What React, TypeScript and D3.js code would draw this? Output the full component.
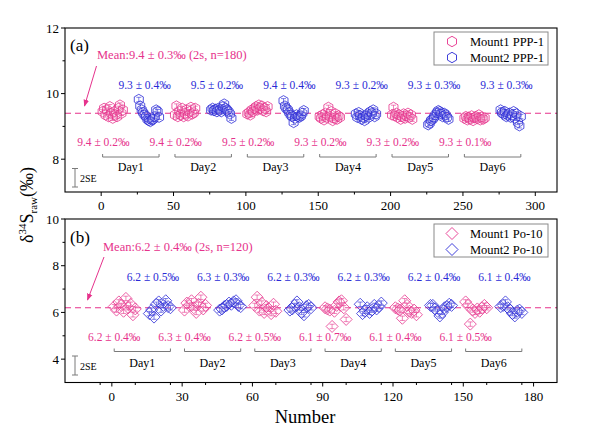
import React from "react";
import * as d3 from "d3";

const PINK = "#E6328C";
const BLUE = "#2A2AD6";
const GRAY = "#7a7a7a";
const FONT = "Liberation Serif, Tinos, Times New Roman, DejaVu Serif, serif";

// ---------- Panel (a) data: PPP-1 ----------
const daysA = ["Day1", "Day2", "Day3", "Day4", "Day5", "Day6"];
const mount1A: number[][] = [
  [9.45, 9.55, 9.35, 9.5, 9.3, 9.6, 9.4, 9.25, 9.45, 9.35, 9.3, 9.55, 9.65, 9.4, 9.5],
  [9.35, 9.62, 9.3, 9.45, 9.35, 9.55, 9.3, 9.4, 9.5, 9.32, 9.45, 9.58, 9.38, 9.42, 9.55],
  [9.38, 9.42, 9.35, 9.5, 9.45, 9.55, 9.6, 9.5, 9.65, 9.55, 9.62, 9.48, 9.55, 9.45, 9.6],
  [9.3, 9.25, 9.35, 9.2, 9.4, 9.28, 9.58, 9.3, 9.45, 9.18, 9.25, 9.38, 9.22, 9.32, 9.28],
  [9.35, 9.58, 9.32, 9.4, 9.28, 9.35, 9.22, 9.3, 9.38, 9.25, 9.32, 9.4, 9.28, 9.35, 9.22],
  [9.25, 9.3, 9.2, 9.28, 9.22, 9.32, 9.18, 9.27, 9.3, 9.24, 9.35, 9.2, 9.28, 9.22, 9.26],
];
const mount2A: number[][] = [
  [9.82, 9.62, 9.5, 9.42, 9.35, 9.3, 9.22, 9.18, 9.15, 9.2, 9.22, 9.3, 9.5, 9.45, 9.28],
  [9.5, 9.55, 9.48, 9.52, 9.45, 9.55, 9.5, 9.45, 9.6, 9.68, 9.55, 9.5, 9.45, 9.38, 9.25],
  [9.78, 9.62, 9.55, 9.5, 9.42, 9.35, 9.3, 9.12, 9.25, 9.35, 9.3, 9.28, 9.32, 9.4, 9.48],
  [9.38, 9.28, 9.42, 9.32, 9.22, 9.28, 9.18, 9.32, 9.38, 9.28, 9.45, 9.4, 9.5, 9.3, 9.38],
  [9.05, 9.1, 9.18, 9.22, 9.28, 9.35, 9.42, 9.48, 9.45, 9.38, 9.3, 9.4, 9.35, 9.28, 9.22],
  [9.5, 9.42, 9.38, 9.45, 9.3, 9.35, 9.4, 9.28, 9.35, 9.45, 9.25, 9.38, 9.12, 9.02, 9.3],
];
const labels1A = ["9.4 ± 0.2‰", "9.4 ± 0.2‰", "9.5 ± 0.2‰", "9.3 ± 0.2‰", "9.3 ± 0.2‰", "9.3 ± 0.1‰"];
const labels2A = ["9.3 ± 0.4‰", "9.5 ± 0.2‰", "9.4 ± 0.4‰", "9.3 ± 0.2‰", "9.3 ± 0.3‰", "9.3 ± 0.3‰"];
const meanA = 9.4;
const meanTextA = "Mean:9.4 ± 0.3‰ (2s, n=180)";
const xTicksA = [0, 50, 100, 150, 200, 250, 300];
const yTicksA = [8, 10, 12];
const legendA = ["Mount1 PPP-1", "Mount2 PPP-1"];

// ---------- Panel (b) data: Po-10 ----------
const mount1B: number[][] = [
  [6.25, 6.1, 6.45, 6.3, 6.05, 6.6, 6.2, 6.35, 5.9, 6.15],
  [6.1, 6.4, 6.3, 6.5, 6.2, 6.0, 6.35, 6.65, 6.15, 6.3],
  [6.3, 6.65, 6.1, 6.4, 6.0, 6.25, 6.15, 5.95, 6.35, 6.05],
  [6.2, 6.15, 6.1, 5.4, 6.05, 6.3, 6.45, 6.5, 6.2, 5.7],
  [6.2, 6.15, 6.1, 5.75, 6.5, 6.3, 6.05, 6.0, 6.1, 5.9],
  [6.45, 6.3, 5.5, 6.1, 6.0, 6.15, 6.05, 6.2, 6.3, 6.2],
];
const mount2B: number[][] = [
  [5.95, 6.1, 5.8, 6.35, 6.45, 6.1, 6.3, 6.5, 6.25, 6.2],
  [6.1, 6.15, 6.25, 6.3, 6.4, 6.35, 6.45, 6.5, 6.3, 6.25],
  [6.1, 6.15, 6.3, 6.45, 6.2, 6.0, 5.9, 6.25, 6.3, 6.2],
  [6.35, 5.95, 6.05, 6.2, 6.0, 6.1, 6.3, 6.15, 6.25, 6.4],
  [6.3, 6.3, 6.15, 6.05, 5.85, 6.0, 6.2, 6.25, 6.35, 6.3],
  [6.25, 6.3, 6.45, 6.2, 6.1, 5.95, 5.85, 6.05, 6.1, 6.0],
];
const labels1B = ["6.2 ± 0.4‰", "6.3 ± 0.4‰", "6.2 ± 0.5‰", "6.1 ± 0.7‰", "6.1 ± 0.4‰", "6.1 ± 0.5‰"];
const labels2B = ["6.2 ± 0.5‰", "6.3 ± 0.3‰", "6.2 ± 0.3‰", "6.2 ± 0.3‰", "6.2 ± 0.4‰", "6.1 ± 0.4‰"];
const meanB = 6.2;
const meanTextB = "Mean:6.2 ± 0.4‰ (2s, n=120)";
const xTicksB = [0, 30, 60, 90, 120, 150, 180];
const yTicksB = [4, 6, 8, 10];
const legendB = ["Mount1 Po-10", "Mount2 Po-10"];

const L = 65, R = 557;

function hexPath(r: number) {
  const pts = d3.range(6).map((i) => {
    const a = (Math.PI / 3) * i - Math.PI / 2;
    return [r * Math.cos(a), r * Math.sin(a)];
  });
  return "M" + pts.map((p) => p[0].toFixed(2) + "," + p[1].toFixed(2)).join("L") + "Z";
}
function diamondPath(r: number) {
  return `M0,${-r}L${r},0L0,${r}L${-r},0Z`;
}

type PanelProps = {
  top: number; bottom: number;
  xDomain: [number, number]; yDomain: [number, number];
  xTicks: number[]; xMinorStep: number; yTicks: number[]; yMinorStep: number;
  m1: number[][]; m2: number[][];
  start1: number; start2: number; dayStep: number;
  bracketEnd: number; lab1Pos: number; lab2Pos: number;
  labels1: string[]; labels2: string[];
  mean: number; meanText: string;
  letter: string; legend: string[];
  shape: string; errHalf: number;
  meanTextPos: [number, number]; arrow: [number, number, number, number];
  lab2Y: number; lab1Y: number; bracketY: number; dayY: number;
  seTop: number; seBottom: number; seText: number;
  legendTop: number; letterY: number; markerId: string;
};

function Panel(p: PanelProps) {
  const x = d3.scaleLinear().domain(p.xDomain).range([L, R]);
  const y = d3.scaleLinear().domain(p.yDomain).range([p.bottom, p.top]);
  const xMinor = d3.range(p.xDomain[0], p.xDomain[1] + 0.001, p.xMinorStep).filter(
    (v) => !p.xTicks.includes(v) && v > p.xDomain[0] && v < p.xDomain[1]
  );
  const yMinor = d3.range(p.yDomain[0], p.yDomain[1] + 0.001, p.yMinorStep).filter(
    (v) => !p.yTicks.includes(v) && v > p.yDomain[0] && v < p.yDomain[1]
  );
  const sym = p.shape;
  const renderSeries = (data: number[][], start: number, color: string, key: string) =>
    data.map((day, d) =>
      day.map((v, i) => {
        const cx = x(p.dayStep * d + start + i);
        const cy = y(v);
        return (
          <g key={`${key}-${d}-${i}`} transform={`translate(${cx},${cy})`}>
            <path d={sym} fill="rgba(255,255,255,0.15)" stroke={color} strokeWidth={0.8} />
            <line x1={0} x2={0} y1={-p.errHalf} y2={p.errHalf} stroke={color} strokeWidth={0.6} />
            <line x1={-2.5} x2={2.5} y1={-p.errHalf} y2={-p.errHalf} stroke={color} strokeWidth={0.6} />
            <line x1={-2.5} x2={2.5} y1={p.errHalf} y2={p.errHalf} stroke={color} strokeWidth={0.6} />
          </g>
        );
      })
    );
  return (
    <g style={{ fontFamily: FONT }}>
      <line x1={L} x2={R} y1={y(p.mean)} y2={y(p.mean)} stroke={PINK} strokeWidth={1.1} strokeDasharray="6,4" />
      {renderSeries(p.m1, p.start1, PINK, "a")}
      {renderSeries(p.m2, p.start2, BLUE, "b")}
      <rect x={L} y={p.top} width={R - L} height={p.bottom - p.top} fill="none" stroke="#000" strokeWidth={1.1} />
      {p.xTicks.map((t) => (
        <g key={"xt" + t}>
          <line x1={x(t)} x2={x(t)} y1={p.bottom} y2={p.bottom + 4} stroke="#000" />
          <text x={x(t)} y={p.bottom + 18} textAnchor="middle" fontSize={13}>{t}</text>
        </g>
      ))}
      {xMinor.map((t) => (
        <line key={"xm" + t} x1={x(t)} x2={x(t)} y1={p.bottom} y2={p.bottom + 2.5} stroke="#000" />
      ))}
      {p.yTicks.map((t) => (
        <g key={"yt" + t}>
          <line x1={L - 4} x2={L} y1={y(t)} y2={y(t)} stroke="#000" />
          <text x={L - 6} y={y(t) + 4.5} textAnchor="end" fontSize={13}>{t}</text>
        </g>
      ))}
      {yMinor.map((t) => (
        <line key={"ym" + t} x1={L - 2.5} x2={L} y1={y(t)} y2={y(t)} stroke="#000" />
      ))}
      <text x={70} y={p.letterY} fontSize={17}>{p.letter}</text>
      <text x={p.meanTextPos[0]} y={p.meanTextPos[1]} fontSize={12.5} fill={PINK}>{p.meanText}</text>
      <line x1={p.arrow[0]} y1={p.arrow[1]} x2={p.arrow[2]} y2={p.arrow[3]} stroke={PINK} strokeWidth={1} markerEnd={`url(#${p.markerId})`} />
      {p.labels2.map((s, d) => (
        <text key={"l2" + d} x={x(p.dayStep * d + p.lab2Pos)} y={p.lab2Y} textAnchor="middle" fontSize={11.5} fill={BLUE}>{s}</text>
      ))}
      {p.labels1.map((s, d) => (
        <text key={"l1" + d} x={x(p.dayStep * d + p.lab1Pos)} y={p.lab1Y} textAnchor="middle" fontSize={11.5} fill={PINK}>{s}</text>
      ))}
      {daysA.map((s, d) => {
        const x0 = x(p.dayStep * d + 1);
        const x1 = x(p.dayStep * d + p.bracketEnd);
        return (
          <g key={"day" + d}>
            <path d={`M${x0},${p.bracketY - 3}V${p.bracketY}H${x1}V${p.bracketY - 3}`} fill="none" stroke={GRAY} strokeWidth={1} />
            <text x={(x0 + x1) / 2} y={p.dayY} textAnchor="middle" fontSize={12}>{s}</text>
          </g>
        );
      })}
      <g stroke={GRAY} strokeWidth={1}>
        <line x1={75} x2={75} y1={p.seTop} y2={p.seBottom} />
        <line x1={72} x2={78} y1={p.seTop} y2={p.seTop} />
        <line x1={72} x2={78} y1={p.seBottom} y2={p.seBottom} />
      </g>
      <text x={80} y={p.seText} fontSize={10}>2SE</text>
      <rect x={434} y={p.legendTop} width={114} height={33} fill="#fff" stroke="#8a8a8a" strokeWidth={1} />
      {p.legend.map((s, i) => (
        <g key={"lg" + i}>
          <path transform={`translate(452,${p.legendTop + 9.5 + i * 16})`} d={sym} fill="none" stroke={i === 0 ? PINK : BLUE} strokeWidth={0.9} />
          <text x={470} y={p.legendTop + 14 + i * 16} fontSize={12.5}>{s}</text>
        </g>
      ))}
    </g>
  );
}

export default function App() {
  return (
    <svg width={600} height={436} style={{ position: "absolute", left: 0, top: 0, background: "#fff", fontFamily: FONT }}>
      <defs>
        <marker id="arrA" viewBox="0 0 10 10" refX={9} refY={5} markerWidth={7} markerHeight={7} orient="auto">
          <path d="M0,1L10,5L0,9Z" fill={PINK} />
        </marker>
        <marker id="arrB" viewBox="0 0 10 10" refX={9} refY={5} markerWidth={7} markerHeight={7} orient="auto">
          <path d="M0,1L10,5L0,9Z" fill={PINK} />
        </marker>
      </defs>
      <rect width={600} height={436} fill="#fff" />
      <Panel
        top={28} bottom={192} xDomain={[-25, 315]} yDomain={[7, 12]}
        xTicks={xTicksA} xMinorStep={25} yTicks={yTicksA} yMinorStep={1}
        m1={mount1A} m2={mount2A} start1={1} start2={26} dayStep={50}
        bracketEnd={40} lab1Pos={1.5} lab2Pos={30}
        labels1={labels1A} labels2={labels2A}
        mean={meanA} meanText={meanTextA} letter="(a)" legend={legendA}
        shape={hexPath(5.2)} errHalf={2.2}
        meanTextPos={[97, 58.5]} arrow={[96.5, 66, 84.5, 106]}
        lab2Y={89} lab1Y={145.5} bracketY={157} dayY={170.5}
        seTop={168.5} seBottom={187} seText={181.5}
        legendTop={32} letterY={51} markerId="arrA"
      />
      <Panel
        top={219} bottom={382.5} xDomain={[-20, 190]} yDomain={[3, 10]}
        xTicks={xTicksB} xMinorStep={15} yTicks={yTicksB} yMinorStep={1}
        m1={mount1B} m2={mount2B} start1={1} start2={16} dayStep={30}
        bracketEnd={25} lab1Pos={1} lab2Pos={17.5}
        labels1={labels1B} labels2={labels2B}
        mean={meanB} meanText={meanTextB} letter="(b)" legend={legendB}
        shape={diamondPath(6)} errHalf={2.2}
        meanTextPos={[103, 250.5]} arrow={[104, 257, 87.5, 300]}
        lab2Y={281} lab1Y={341} bracketY={351.5} dayY={367}
        seTop={356} seBottom={375} seText={369.5}
        legendTop={224} letterY={242.5} markerId="arrB"
      />
      <text transform="translate(33,205) rotate(-90)" textAnchor="middle" fontSize={18}>
        δ<tspan fontSize={11} dy={-7}>34</tspan><tspan dy={7}>S</tspan><tspan fontSize={11} dy={4}>raw</tspan><tspan dy={-4}>(‰)</tspan>
      </text>
      <text x={305} y={423} textAnchor="middle" fontSize={18.5}>Number</text>
    </svg>
  );
}
